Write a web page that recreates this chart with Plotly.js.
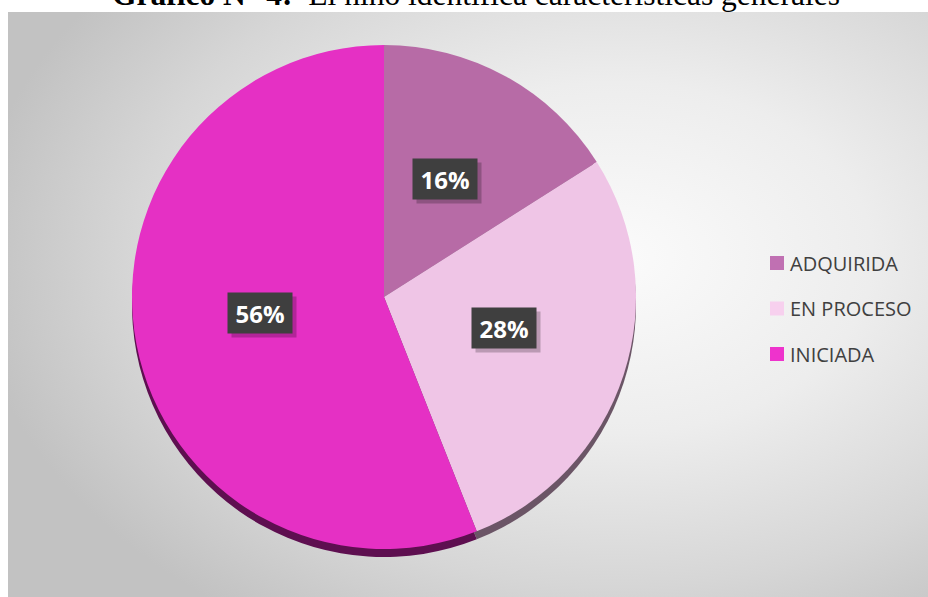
<!DOCTYPE html>
<html>
<head>
<meta charset="utf-8">
<script src="https://cdn.plot.ly/plotly-3.0.1.min.js"></script>
<style>
  html, body { margin: 0; padding: 0; background: #ffffff; }
  #wrap { position: relative; width: 928px; height: 597px; overflow: hidden; }
  #bg { position: absolute; left: 8px; top: 12px; width: 920px; height: 585px;
        background: radial-gradient(ellipse 70% 75% at 66% 42%, #fbfbfb 0%, #ededed 40%, #d6d6d6 75%, #c2c2c2 100%); }
  #chart { position: absolute; left: 0; top: 0; width: 928px; height: 597px; }
</style>
</head>
<body>
<div id="wrap">
  <div id="bg"></div>
  <div id="chart"></div>
</div>
<script>
// ---- data ----
const categories = ['ADQUIRIDA', 'EN PROCESO', 'INICIADA'];
const values = [16, 28, 56];
const titleBold = 'Gráfico N° 4:';
const titleRest = '  El niño identifica características generales';

// ---- styles ----
const sliceColors = ['#b76ba6', '#efc5e6', '#e530c4'];
const sideColors = ['#6e3a64', '#6b5566', '#5e0f50'];
const legendColors = ['#c070b2', '#f7d0ee', '#ee33cc'];

const W = 928, H = 597;
const cx = 384, cy = 297, R = 252;   // pie geometry (px)
const labelCy = 289;                 // label reference centre
const sideDrop = 8;                  // 3D side depth (px)

function dom(cxp, cyp) {
  return {
    x: [(cxp - R) / W, (cxp + R) / W],
    y: [1 - (cyp + R) / H, 1 - (cyp - R) / H]
  };
}

const sidePie = {
  type: 'pie', labels: categories, values: values, sort: false,
  direction: 'clockwise', rotation: 0, textinfo: 'none', hoverinfo: 'skip',
  showlegend: false, domain: dom(cx, cy + sideDrop),
  marker: { colors: sideColors, line: { width: 0 } }
};
const mainPie = {
  type: 'pie', labels: categories, values: values, sort: false,
  direction: 'clockwise', rotation: 0, textinfo: 'none',
  showlegend: false, domain: dom(cx, cy),
  marker: { colors: sliceColors, line: { width: 0 } }
};

const total = values.reduce((a, b) => a + b, 0);
const annotations = [];
const shapes = [];

// data labels (dark boxes) placed at mid-angle of each slice
let cum = 0;
values.forEach((v, i) => {
  const m = (cum + v / 2) / total;
  cum += v;
  const th = 2 * Math.PI * m;
  const r = 0.5 * R;
  const px = cx + r * Math.sin(th);
  const py = labelCy - r * Math.cos(th);
  const txt = Math.round(v / total * 100) + '%';
  // shadow
  annotations.push({
    xref: 'paper', yref: 'paper', x: (px + 4) / W, y: 1 - (py + 4) / H,
    xanchor: 'center', yanchor: 'middle', showarrow: false,
    text: ' ', width: 62, height: 38, borderpad: 1,
    bgcolor: 'rgba(0,0,0,0.22)', font: { size: 24 }
  });
  annotations.push({
    xref: 'paper', yref: 'paper', x: px / W, y: 1 - py / H,
    xanchor: 'center', yanchor: 'middle', showarrow: false,
    text: '<b>' + txt + '</b>', width: 62, height: 38, borderpad: 1,
    bgcolor: '#3f3f3f',
    font: { family: 'Open Sans, Liberation Sans, sans-serif', size: 24, color: '#ffffff' }
  });
});

// legend
const legTop = 263, legGap = 45.5, swX = 770, sw = 14, txtX = 788;
categories.forEach((c, i) => {
  const row = legTop + i * legGap;
  shapes.push({
    type: 'rect', xref: 'paper', yref: 'paper',
    x0: swX / W, x1: (swX + sw) / W,
    y0: 1 - (row + sw / 2) / H, y1: 1 - (row - sw / 2) / H,
    fillcolor: legendColors[i], line: { width: 0 }
  });
  annotations.push({
    xref: 'paper', yref: 'paper', x: txtX / W, y: 1 - row / H,
    xanchor: 'left', yanchor: 'middle', showarrow: false,
    text: c, font: { family: 'Open Sans, sans-serif', size: 20, color: '#404040' }
  });
});

// title (partially clipped at top, as in the reference)
annotations.push({
  xref: 'paper', yref: 'paper', x: 110 / W, y: 1 - 14 / H,
  xanchor: 'left', yanchor: 'bottom', showarrow: false,
  text: '<b>' + titleBold + '</b>' + titleRest,
  font: { family: 'Liberation Serif, Times New Roman, serif', size: 31.5, color: '#000000' }
});

const layout = {
  width: W, height: H,
  margin: { l: 0, r: 0, t: 0, b: 0 },
  paper_bgcolor: 'rgba(0,0,0,0)', plot_bgcolor: 'rgba(0,0,0,0)',
  showlegend: false,
  annotations: annotations,
  shapes: shapes
};

Plotly.newPlot('chart', [sidePie, mainPie], layout, { displayModeBar: false, staticPlot: true });
</script>
</body>
</html>
